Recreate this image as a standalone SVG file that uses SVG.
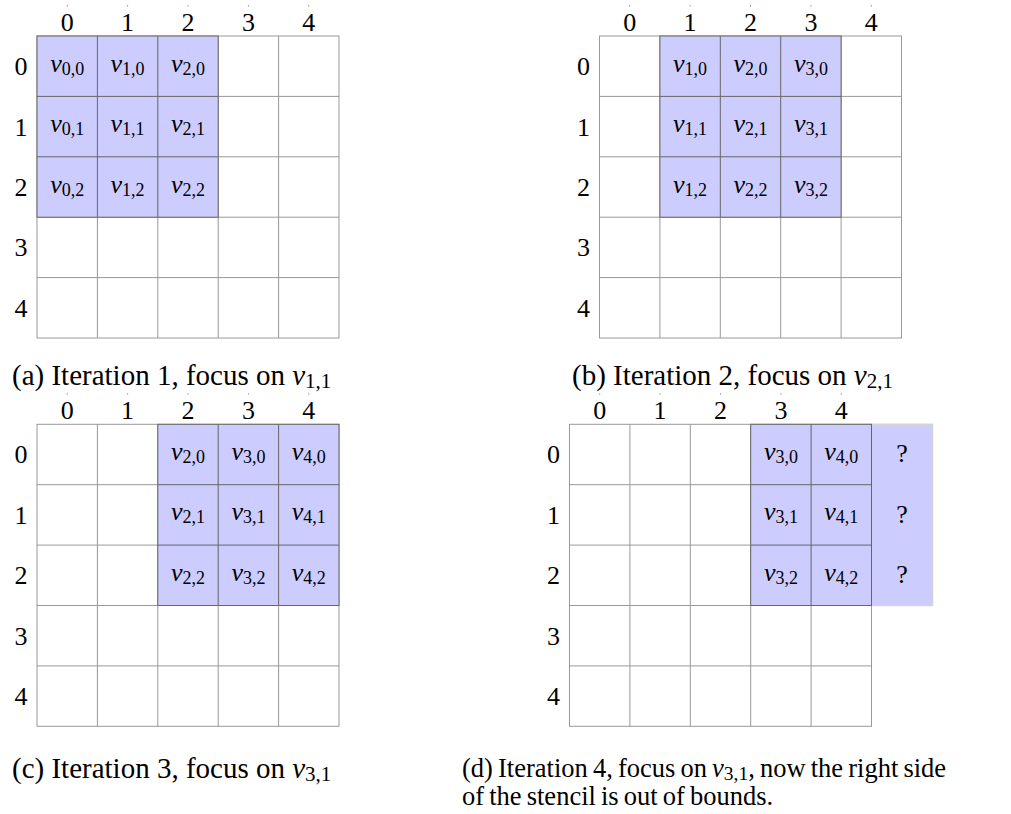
<svg xmlns="http://www.w3.org/2000/svg" width="1011" height="814" viewBox="0 0 1011 814">
<style>
.bg{fill:#fff;stroke:#999;stroke-width:1}
.gl{fill:none;stroke:#999;stroke-width:1}
.hl{fill:#ccccff;stroke:#666;stroke-width:1}
.hgl{fill:none;stroke:#666;stroke-width:1}
.q{fill:#ccccff;stroke:#d4d4d4;stroke-width:1.5}
.num{font-family:"Liberation Serif",serif;font-size:26px;text-anchor:middle;fill:#000}
.var{font-family:"Liberation Serif",serif;font-style:italic;font-size:26px;text-anchor:middle;fill:#000}
.sub{font-style:normal;font-size:18px}
.cap{font-family:"Liberation Serif",serif;font-size:29px;fill:#000}
.capd{font-family:"Liberation Serif",serif;font-size:26.5px;word-spacing:-1.5px;fill:#000}
.capv{font-style:italic}
.capsub{font-size:21px}
.capdsub{font-size:19.5px}
.tk{fill:#999}
</style>
<defs>
<g id="grid">
<rect class="bg" x="0" y="0" width="302" height="302"/>
<path class="gl" d="M60.4 0V302M120.8 0V302M181.2 0V302M241.6 0V302M0 60.4H302M0 120.8H302M0 181.2H302M0 241.6H302"/>
</g>
<g id="labels">
<rect class="tk" x="29.7" y="-31" width="1" height="1.5"/>
<rect class="tk" x="90.1" y="-31" width="1" height="1.5"/>
<rect class="tk" x="150.5" y="-31" width="1" height="1.5"/>
<rect class="tk" x="210.9" y="-31" width="1" height="1.5"/>
<rect class="tk" x="271.3" y="-31" width="1" height="1.5"/>
<text class="num" x="30.2" y="-5">0</text>
<text class="num" x="90.6" y="-5">1</text>
<text class="num" x="151" y="-5">2</text>
<text class="num" x="211.4" y="-5">3</text>
<text class="num" x="271.8" y="-5">4</text>
<text class="num" x="-16" y="39.2">0</text>
<text class="num" x="-16" y="99.6">1</text>
<text class="num" x="-16" y="160">2</text>
<text class="num" x="-16" y="220.4">3</text>
<text class="num" x="-16" y="280.8">4</text>
</g>
</defs>

<g id="panel-a" transform="translate(37,36)">
<use href="#grid"/>
<rect class="hl" x="0" y="0" width="181.2" height="181.2"/>
<path class="hgl" d="M60.4 0V181.2M120.8 0V181.2M0 60.4H181.2M0 120.8H181.2"/>
<use href="#labels"/>
<text class="var" x="30.2" y="35.7">v<tspan class="sub" dy="3">0,0</tspan></text>
<text class="var" x="90.6" y="35.7">v<tspan class="sub" dy="3">1,0</tspan></text>
<text class="var" x="151" y="35.7">v<tspan class="sub" dy="3">2,0</tspan></text>
<text class="var" x="30.2" y="96.1">v<tspan class="sub" dy="3">0,1</tspan></text>
<text class="var" x="90.6" y="96.1">v<tspan class="sub" dy="3">1,1</tspan></text>
<text class="var" x="151" y="96.1">v<tspan class="sub" dy="3">2,1</tspan></text>
<text class="var" x="30.2" y="156.5">v<tspan class="sub" dy="3">0,2</tspan></text>
<text class="var" x="90.6" y="156.5">v<tspan class="sub" dy="3">1,2</tspan></text>
<text class="var" x="151" y="156.5">v<tspan class="sub" dy="3">2,2</tspan></text>
</g>

<g id="panel-b" transform="translate(599.5,36)">
<use href="#grid"/>
<rect class="hl" x="60.4" y="0" width="181.2" height="181.2"/>
<path class="hgl" d="M120.8 0V181.2M181.2 0V181.2M60.4 60.4H241.6M60.4 120.8H241.6"/>
<use href="#labels"/>
<text class="var" x="90.6" y="35.7">v<tspan class="sub" dy="3">1,0</tspan></text>
<text class="var" x="151" y="35.7">v<tspan class="sub" dy="3">2,0</tspan></text>
<text class="var" x="211.4" y="35.7">v<tspan class="sub" dy="3">3,0</tspan></text>
<text class="var" x="90.6" y="96.1">v<tspan class="sub" dy="3">1,1</tspan></text>
<text class="var" x="151" y="96.1">v<tspan class="sub" dy="3">2,1</tspan></text>
<text class="var" x="211.4" y="96.1">v<tspan class="sub" dy="3">3,1</tspan></text>
<text class="var" x="90.6" y="156.5">v<tspan class="sub" dy="3">1,2</tspan></text>
<text class="var" x="151" y="156.5">v<tspan class="sub" dy="3">2,2</tspan></text>
<text class="var" x="211.4" y="156.5">v<tspan class="sub" dy="3">3,2</tspan></text>
</g>

<g id="panel-c" transform="translate(37,424.3)">
<use href="#grid"/>
<rect class="hl" x="120.8" y="0" width="181.2" height="181.2"/>
<path class="hgl" d="M181.2 0V181.2M241.6 0V181.2M120.8 60.4H302M120.8 120.8H302"/>
<use href="#labels"/>
<text class="var" x="151" y="35.7">v<tspan class="sub" dy="3">2,0</tspan></text>
<text class="var" x="211.4" y="35.7">v<tspan class="sub" dy="3">3,0</tspan></text>
<text class="var" x="271.8" y="35.7">v<tspan class="sub" dy="3">4,0</tspan></text>
<text class="var" x="151" y="96.1">v<tspan class="sub" dy="3">2,1</tspan></text>
<text class="var" x="211.4" y="96.1">v<tspan class="sub" dy="3">3,1</tspan></text>
<text class="var" x="271.8" y="96.1">v<tspan class="sub" dy="3">4,1</tspan></text>
<text class="var" x="151" y="156.5">v<tspan class="sub" dy="3">2,2</tspan></text>
<text class="var" x="211.4" y="156.5">v<tspan class="sub" dy="3">3,2</tspan></text>
<text class="var" x="271.8" y="156.5">v<tspan class="sub" dy="3">4,2</tspan></text>
</g>

<g id="panel-d" transform="translate(569.5,424.3)">
<use href="#grid"/>
<rect class="q" x="302" y="0" width="61" height="181.2"/>
<rect class="hl" x="181.2" y="0" width="120.8" height="181.2"/>
<path class="hgl" d="M241.6 0V181.2M181.2 60.4H302M181.2 120.8H302"/>
<use href="#labels"/>
<text class="var" x="211.4" y="35.7">v<tspan class="sub" dy="3">3,0</tspan></text>
<text class="var" x="271.8" y="35.7">v<tspan class="sub" dy="3">4,0</tspan></text>
<text class="var" x="211.4" y="96.1">v<tspan class="sub" dy="3">3,1</tspan></text>
<text class="var" x="271.8" y="96.1">v<tspan class="sub" dy="3">4,1</tspan></text>
<text class="var" x="211.4" y="156.5">v<tspan class="sub" dy="3">3,2</tspan></text>
<text class="var" x="271.8" y="156.5">v<tspan class="sub" dy="3">4,2</tspan></text>
<text class="num" x="332.5" y="38">?</text>
<text class="num" x="332.5" y="98.4">?</text>
<text class="num" x="332.5" y="158.8">?</text>
</g>

<g id="captions">
<text class="cap" x="12" y="385">(a) Iteration 1, focus on <tspan class="capv">v</tspan><tspan class="capsub" dy="3">1,1</tspan></text>
<text class="cap" x="572" y="385">(b) Iteration 2, focus on <tspan class="capv">v</tspan><tspan class="capsub" dy="3">2,1</tspan></text>
<text class="cap" x="12" y="778">(c) Iteration 3, focus on <tspan class="capv">v</tspan><tspan class="capsub" dy="3">3,1</tspan></text>
<text class="capd" x="462" y="777">(d) Iteration 4, focus on <tspan class="capv">v</tspan><tspan class="capdsub" dy="3">3,1</tspan><tspan dy="-3">, now the right side</tspan></text>
<text class="capd" x="462" y="805">of the stencil is out of bounds.</text>
</g>
</svg>
